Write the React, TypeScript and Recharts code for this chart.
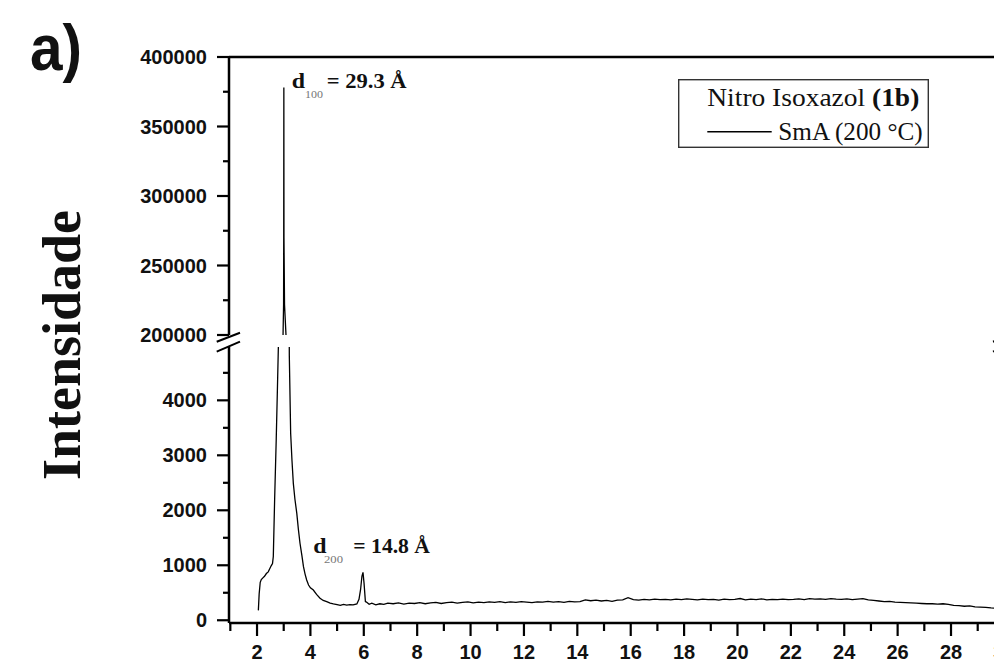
import { LineChart, Line, XAxis, YAxis, Legend, ReferenceLine } from 'recharts'

// 2θ (degrees) and intensity (counts)
const twoTheta = [
  2.05, 2.08, 2.12, 2.16, 2.22, 2.28, 2.35, 2.42, 2.48, 2.53, 2.58, 2.61, 2.66, 2.72, 2.76, 2.81,
  2.9, 2.975, 2.995, 3.0, 3.005, 3.01, 3.03, 3.085, 3.13, 3.18, 3.21, 3.26, 3.31, 3.36, 3.42, 3.49,
  3.55, 3.61, 3.68, 3.74, 3.8, 3.86, 3.93, 4.0, 4.11, 4.23, 4.36, 4.48, 4.61, 4.74, 4.86, 5.0,
  5.12, 5.24, 5.36, 5.48, 5.6, 5.74, 5.82, 5.88, 5.93, 5.97, 6.01, 6.06, 6.1,
  6.2, 6.3, 6.45, 6.6, 6.75, 6.9, 7.1, 7.3, 7.5, 7.7, 7.9, 8.1, 8.3, 8.5, 8.7, 8.9,
  9.1, 9.3, 9.5, 9.7, 9.9, 10.1, 10.3, 10.5, 10.7, 10.9, 11.1, 11.3, 11.5, 11.7, 11.9, 12.1,
  12.3, 12.5, 12.7, 12.9, 13.1, 13.3, 13.5, 13.7, 13.9, 14.1, 14.3, 14.5, 14.7, 14.9, 15.1, 15.3,
  15.5, 15.7, 15.9, 16.1, 16.3, 16.5, 16.7, 16.9, 17.1, 17.3, 17.5, 17.7, 17.9, 18.1, 18.3, 18.5,
  18.7, 18.9, 19.1, 19.3, 19.5, 19.7, 19.9, 20.1, 20.3, 20.5, 20.7, 20.9, 21.1, 21.3, 21.5, 21.7,
  21.9, 22.1, 22.3, 22.5, 22.7, 22.9, 23.1, 23.3, 23.5, 23.7, 23.9, 24.1, 24.3, 24.5, 24.7, 24.9,
  25.1, 25.3, 25.5, 25.7, 25.9, 26.1, 26.3, 26.5, 26.7, 26.9, 27.1, 27.3, 27.5, 27.7, 27.9, 28.1,
  28.3, 28.5, 28.7, 28.9, 29.1, 29.3, 29.5, 29.7, 30.0,
]
const intensity = [
  180, 480, 690, 740, 770, 800, 850, 880, 940, 990, 1030, 1160, 2200, 3300, 4130, 5200,
  60000, 200000, 222000, 270000, 378000, 270000, 222000, 200000, 70000, 8000, 4800, 3400, 2900, 2490, 2200, 1945,
  1650, 1400, 1180, 974, 840, 732, 640, 590, 550, 470, 400, 360, 337, 310, 296, 285,
  270, 290, 277, 285, 280, 296, 380, 560, 800, 870, 670, 340, 330,
  290, 310, 280, 300, 290, 310, 300, 315, 295, 310, 305, 320, 300, 315, 325, 305,
  320, 330, 310, 325, 335, 315, 330, 320, 335, 325, 340, 320, 335, 325, 340, 330,
  320, 335, 330, 345, 330, 340, 325, 345, 335, 340, 370, 355, 365, 350, 360, 345,
  365, 370, 410, 375, 365, 380, 370, 385, 375, 380, 370, 385, 375, 390, 380, 370,
  385, 375, 380, 365, 385, 375, 380, 395, 370, 385, 375, 390, 370, 380, 375, 385,
  375, 380, 390, 375, 395, 385, 390, 380, 395, 385, 380, 390, 375, 385, 395, 370,
  360, 350, 340, 345, 330, 325, 320, 315, 310, 305, 300, 300, 295, 300, 290, 270,
  265, 255, 260, 245, 240, 235, 225, 220, 215,
]
const data = twoTheta.map((x, i) => ({ x, y: intensity[i] }))

const xTicks = [1, 2, 3, 4, 5, 6, 7, 8, 9, 10, 11, 12, 13, 14, 15, 16, 17, 18, 19, 20, 21, 22, 23, 24, 25, 26, 27, 28, 29, 30]
const upperTicks = [200000, 225000, 250000, 275000, 300000, 325000, 350000, 375000, 400000]
const lowerTicks = [0, 500, 1000, 1500, 2000, 2500, 3000, 3500, 4000, 4500]

const SANS = 'Liberation Sans, Arial, sans-serif'
const SERIF = 'Liberation Serif, Times New Roman, serif'
const W = 1020
const X_DOMAIN = [0.95, 30]

function XTick({ x, y, payload }: any) {
  const v = payload.value
  const major = v % 2 === 0
  return (
    <g>
      <line x1={x} x2={x} y1={y} y2={y + (major ? 13 : 8)} stroke="#000" strokeWidth={2.2} />
      {major && (
        <text x={x} y={y + 36} textAnchor="middle" fontFamily={SANS} fontWeight={700} fontSize={20} fill="#111">{v}</text>
      )}
    </g>
  )
}

const yTick = (step: number) => ({ x, y, payload }: any) => {
  const v = payload.value
  const major = v % step === 0
  return (
    <g>
      <line x1={x} x2={x - (major ? 12 : 6)} y1={y} y2={y} stroke="#000" strokeWidth={2.2} />
      {major && (
        <text x={x - 22} y={y + 7} textAnchor="end" fontFamily={SANS} fontWeight={700} fontSize={20} fill="#111">{v}</text>
      )}
    </g>
  )
}

function LegendBox() {
  return (
    <svg width={252} height={70} style={{ display: 'block' }}>
      <rect x={0.7} y={0.7} width={249.6} height={67.6} fill="#fff" stroke="#333" strokeWidth={1.4} />
      <text x={29.3} y={27} fontFamily={SERIF} fontSize={25} fill="#111" textLength={212} lengthAdjust="spacingAndGlyphs">
        Nitro Isoxazol <tspan fontWeight={700}>(1b)</tspan>
      </text>
      <line x1={29.3} x2={93.7} y1={52.7} y2={52.7} stroke="#000" strokeWidth={1.4} />
      <text x={100.3} y={61} fontFamily={SERIF} fontSize={25} fill="#111" textLength={144.4} lengthAdjust="spacingAndGlyphs">
        SmA (200 °C)
      </text>
    </svg>
  )
}

function Label({ x, base, sub, rest, subW, restX, restW, subX }: any) {
  return (
    <g fontFamily={SERIF} fill="#111">
      <text x={x} y={base} fontSize={20} fontWeight={700} textLength={13.3} lengthAdjust="spacingAndGlyphs">d</text>
      <text x={subX} y={base + 10} fontSize={9.5} fill="#777" textLength={subW} lengthAdjust="spacingAndGlyphs">{sub}</text>
      <text x={restX} y={base} fontSize={20} fontWeight={700} textLength={restW} lengthAdjust="spacingAndGlyphs">{rest}</text>
    </g>
  )
}

export default function App() {
  const axisLine = { stroke: '#000', strokeWidth: 2.5 }
  return (
    <div style={{ position: 'absolute', left: 0, top: 0, width: 994, height: 670, overflow: 'hidden', background: '#fff' }}>
      {/* upper panel: 200000 – 400000 */}
      <div style={{ position: 'absolute', left: 0, top: 0 }}>
        <LineChart width={W} height={347} data={data} margin={{ top: 57, right: 15.6, bottom: 12, left: 0 }}>
          <XAxis dataKey="x" type="number" domain={X_DOMAIN} allowDataOverflow hide />
          <YAxis type="number" domain={[200000, 400000]} ticks={upperTicks} interval={0} allowDataOverflow
            width={229} tickSize={0} tickMargin={0} tickLine={false} axisLine={axisLine} tick={yTick(50000)} />
          <ReferenceLine y={400000} stroke="#000" strokeWidth={2.5} />
          <Line type="linear" dataKey="y" stroke="#000" strokeWidth={1.3} dot={false} isAnimationActive={false} />
          <Legend layout="horizontal" verticalAlign="middle" align="center" content={() => <LegendBox />}
            wrapperStyle={{ left: 678, top: 79, width: 252, height: 70 }} />
        </LineChart>
      </div>
      {/* lower panel: 0 – ~5000 */}
      <div style={{ position: 'absolute', left: 0, top: 0 }}>
        <LineChart width={W} height={673} data={data} margin={{ top: 347, right: 15.6, bottom: 0, left: 0 }}>
          <XAxis dataKey="x" type="number" domain={X_DOMAIN} ticks={xTicks} interval={0} allowDataOverflow
            height={50} tickSize={0} tickMargin={0} tickLine={false} axisLine={axisLine} tick={<XTick />} />
          <YAxis type="number" domain={[-50, 4970]} ticks={lowerTicks} interval={0} allowDataOverflow
            width={229} tickSize={0} tickMargin={0} tickLine={false} axisLine={axisLine} tick={yTick(1000)} />
          <Line type="linear" dataKey="y" stroke="#000" strokeWidth={1.3} dot={false} isAnimationActive={false} />
        </LineChart>
      </div>
      {/* titles, annotations, axis breaks */}
      <svg width={994} height={670} style={{ position: 'absolute', left: 0, top: 0, pointerEvents: 'none' }}>
        <text x={30} y={70} fontFamily={SANS} fontWeight={700} fontSize={64} fill="#111"
          textLength={52} lengthAdjust="spacingAndGlyphs">a)</text>
        <text transform="translate(80,345) rotate(-90)" textAnchor="middle" fontFamily={SERIF} fontWeight={700}
          fontSize={55} fill="#111" textLength={270} lengthAdjust="spacingAndGlyphs">Intensidade</text>
        <Label x={291.7} base={88} sub="100" subX={305} subW={18} rest="= 29.3 Å" restX={326.7} restW={80} />
        <Label x={313.3} base={553} sub="200" subX={324} subW={19} rest="= 14.8 Å" restX={353.3} restW={76.7} />
        <g stroke="#000" strokeWidth={2}>
          <line x1={216.7} y1={341.7} x2={240} y2={332.7} />
          <line x1={216.7} y1={351.7} x2={240} y2={341.7} />
          <line x1={993} y1={341.7} x2={1016} y2={332.7} />
          <line x1={993} y1={351.7} x2={1016} y2={341.7} />
        </g>
      </svg>
    </div>
  )
}
